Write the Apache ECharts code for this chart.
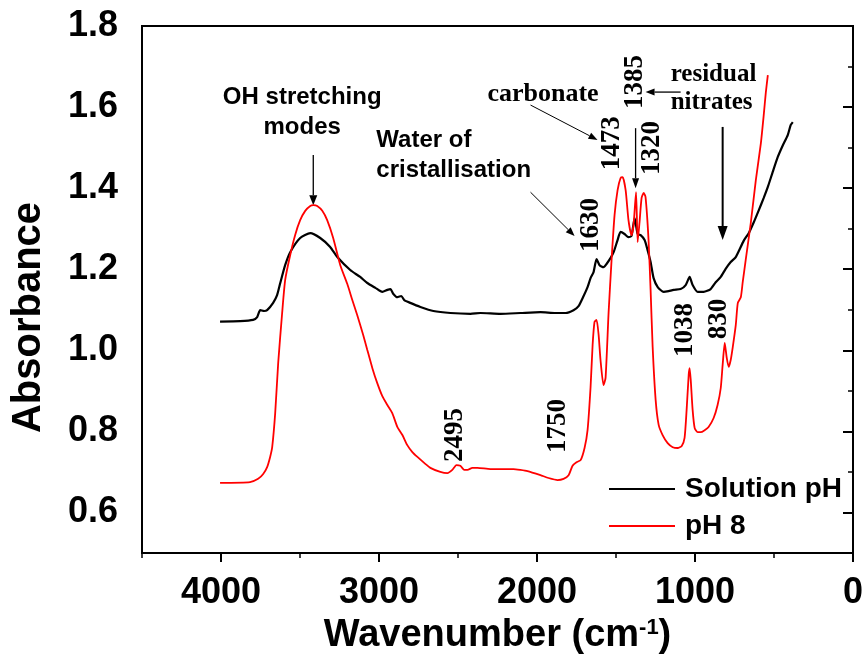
<!DOCTYPE html>
<html>
<head>
<meta charset="utf-8">
<title>FTIR absorbance spectra</title>
<script src="https://cdn.jsdelivr.net/npm/echarts@6/dist/echarts.min.js"></script>
<style>
  html, body { margin: 0; padding: 0; background: #fff; }
  #chart { width: 868px; height: 659px; }
</style>
</head>
<body>
<div id="chart"></div>
<script>
// Tick labels
const xTickValues = [4000, 3000, 2000, 1000, 0];
const xMinorValues = [4500, 3500, 2500, 1500, 500];
const yTickValues = [0.6, 0.8, 1.0, 1.2, 1.4, 1.6, 1.8];
const yMinorValues = [0.7, 0.9, 1.1, 1.3, 1.5, 1.7];

// Series names
const seriesNames = ['Solution pH', 'pH 8'];

// Spectrum recorded at solution pH: wavenumber (cm-1) and absorbance
const solutionWn = [
  4006, 3879, 3797, 3771, 3752, 3727, 3708, 3670, 3645, 3625, 3594, 3562, 3499, 3435, 3372, 3309,
  3264, 3182, 3119, 3074, 3023, 2979, 2947, 2928, 2909, 2884, 2859, 2840, 2802, 2738, 2656, 2548,
  2421, 2358, 2231, 2105, 1978, 1883, 1819, 1769, 1737, 1705, 1680, 1661, 1642, 1623, 1604, 1579,
  1560, 1534, 1515, 1490, 1471, 1446, 1421, 1402, 1382, 1363, 1344, 1319, 1300, 1281, 1262, 1236,
  1198, 1167, 1135, 1091, 1059, 1034, 1015, 983, 945, 901, 869, 837, 806, 774, 742, 692,
  660, 628, 596, 565, 539, 508, 476, 444, 413, 394, 381
];
const solutionAbs = [
  1.071, 1.072, 1.075, 1.082, 1.099, 1.097, 1.099, 1.117, 1.136, 1.166, 1.210, 1.242, 1.277, 1.289, 1.277, 1.255,
  1.230, 1.198, 1.181, 1.166, 1.154, 1.144, 1.149, 1.151, 1.139, 1.131, 1.134, 1.124, 1.117, 1.107, 1.097, 1.092,
  1.090, 1.092, 1.090, 1.092, 1.094, 1.092, 1.092, 1.099, 1.109, 1.134, 1.156, 1.178, 1.193, 1.225, 1.210, 1.205,
  1.213, 1.228, 1.242, 1.272, 1.292, 1.287, 1.279, 1.282, 1.326, 1.287, 1.284, 1.272, 1.247, 1.218, 1.178, 1.156,
  1.144, 1.146, 1.149, 1.151, 1.161, 1.181, 1.161, 1.144, 1.144, 1.151, 1.168, 1.181, 1.201, 1.218, 1.230, 1.270,
  1.289, 1.316, 1.346, 1.376, 1.403, 1.440, 1.477, 1.506, 1.531, 1.556, 1.563
];

// Spectrum recorded at pH 8: wavenumber (cm-1) and absorbance
const ph8Wn = [
  4006, 3816, 3765, 3733, 3708, 3689, 3676, 3657, 3638, 3613, 3594, 3562, 3531, 3499, 3467, 3435,
  3416, 3391, 3359, 3328, 3290, 3245, 3201, 3169, 3138, 3100, 3074, 3042, 3011, 2979, 2947, 2916,
  2884, 2852, 2821, 2789, 2757, 2707, 2675, 2612, 2567, 2536, 2510, 2485, 2460, 2440, 2409, 2377,
  2295, 2231, 2149, 2105, 2060, 1978, 1927, 1870, 1832, 1800, 1775, 1750, 1724, 1699, 1680, 1661,
  1648, 1636, 1623, 1610, 1598, 1579, 1566, 1547, 1528, 1509, 1490, 1471, 1458, 1439, 1421, 1402,
  1389, 1373, 1363, 1351, 1338, 1325, 1313, 1294, 1281, 1268, 1249, 1230, 1205, 1173, 1141, 1110,
  1084, 1066, 1053, 1040, 1034, 1027, 1015, 1002, 983, 964, 939, 914, 882, 857, 837, 825,
  812, 799, 787, 774, 761, 742, 729, 710, 698, 679, 647, 615, 583, 565, 552, 539
];
const ph8Abs = [
  0.673, 0.675, 0.683, 0.695, 0.712, 0.737, 0.761, 0.845, 0.969, 1.092, 1.173, 1.235, 1.284, 1.321, 1.344, 1.356,
  1.358, 1.356, 1.344, 1.321, 1.277, 1.210, 1.164, 1.124, 1.087, 1.038, 1.001, 0.956, 0.919, 0.887, 0.865, 0.845,
  0.811, 0.791, 0.766, 0.749, 0.737, 0.720, 0.710, 0.700, 0.697, 0.705, 0.717, 0.715, 0.705, 0.705, 0.710, 0.710,
  0.707, 0.707, 0.707, 0.705, 0.702, 0.692, 0.685, 0.680, 0.683, 0.692, 0.715, 0.724, 0.729, 0.759, 0.803, 0.909,
  1.013, 1.070, 1.075, 1.038, 0.976, 0.914, 0.932, 1.092, 1.223, 1.334, 1.395, 1.425, 1.427, 1.395, 1.321, 1.284,
  1.309, 1.390, 1.267, 1.316, 1.376, 1.388, 1.378, 1.272, 1.149, 1.008, 0.877, 0.816, 0.791, 0.771, 0.761, 0.759,
  0.764, 0.784, 0.853, 0.939, 0.956, 0.927, 0.853, 0.808, 0.798, 0.798, 0.803, 0.811, 0.833, 0.865, 0.907, 0.964,
  1.018, 0.981, 0.959, 0.976, 1.008, 1.062, 1.117, 1.131, 1.168, 1.223, 1.314, 1.420, 1.511, 1.580, 1.635, 1.679
];

// Band assignments written on the plot, anchored in data coordinates
const bandLabels = [
  { text: '1473', wn: 1522, abs: 1.511 },
  { text: '1385', wn: 1382, abs: 1.662 },
  { text: '1320', wn: 1274, abs: 1.499 },
  { text: '1630', wn: 1661, abs: 1.309 },
  { text: '2495', wn: 2517, abs: 0.791 },
  { text: '1750', wn: 1864, abs: 0.813 },
  { text: '1038', wn: 1065, abs: 1.050 },
  { text: '830',  wn: 850,  abs: 1.077 }
];

const sansFont = '"Liberation Sans", Arial, sans-serif';
const serifFont = '"Liberation Serif", "Times New Roman", serif';

const chart = echarts.init(document.getElementById('chart'), null, { renderer: 'canvas' });

function pairs(xs, ys) {
  return xs.map((x, i) => [x, ys[i]]);
}

const option = {
  animation: false,
  backgroundColor: '#ffffff',
  grid: {
    left: 142, right: 15, top: 26, bottom: 106,
    outerBoundsMode: 'none', containLabel: false,
    show: true, borderColor: '#000', borderWidth: 2, backgroundColor: 'transparent'
  },
  legend: {
    left: 604, top: 470, orient: 'vertical',
    itemWidth: 66, itemHeight: 2, itemGap: 9,
    icon: 'rect',
    textStyle: { fontFamily: sansFont, fontWeight: 'bold', fontSize: 28, color: '#000', padding: [0, 0, 0, 5] },
    data: seriesNames
  },
  xAxis: [
    {
      type: 'value', min: 0, max: 4500, inverse: true,
      name: '{t|Wavenumber (cm}{s|-1}{t|)}',
      nameLocation: 'middle', nameGap: 64,
      nameTextStyle: {
        rich: {
          t: { fontFamily: sansFont, fontWeight: 'bold', fontSize: 38, color: '#000' },
          s: { fontFamily: sansFont, fontWeight: 'bold', fontSize: 22, color: '#000', verticalAlign: 'top', padding: [0, 0, 14, 0] }
        }
      },
      axisLine: { show: true, lineStyle: { color: '#000', width: 2 } },
      axisTick: { show: true, inside: false, length: 9, lineStyle: { color: '#000', width: 2 }, customValues: xTickValues },
      axisLabel: {
        customValues: xTickValues, margin: 22,
        formatter: v => String(v),
        fontFamily: sansFont, fontWeight: 'bold', fontSize: 36, color: '#000'
      },
      splitLine: { show: false }
    },
    {
      type: 'value', min: 0, max: 4500, inverse: true, position: 'bottom',
      axisLine: { show: false },
      axisTick: { show: true, inside: false, length: 5, lineStyle: { color: '#000', width: 1.5 }, customValues: xMinorValues },
      axisLabel: { show: false },
      splitLine: { show: false }
    }
  ],
  yAxis: [
    {
      type: 'value', min: 0.5, max: 1.8,
      name: 'Absorbance',
      nameLocation: 'middle', nameGap: 93, nameRotate: 90,
      nameTextStyle: { fontFamily: sansFont, fontWeight: 'bold', fontSize: 40, color: '#000', padding: [0, 56, 0, 0] },
      axisLine: { show: true, lineStyle: { color: '#000', width: 2 } },
      axisTick: { show: true, inside: false, length: 10, lineStyle: { color: '#000', width: 2 }, customValues: yTickValues },
      axisLabel: {
        customValues: yTickValues, margin: 24,
        formatter: v => v.toFixed(1),
        fontFamily: sansFont, fontWeight: 'bold', fontSize: 36, color: '#000'
      },
      splitLine: { show: false }
    },
    {
      type: 'value', min: 0.5, max: 1.8, position: 'left',
      axisLine: { show: false },
      axisTick: { show: true, inside: false, length: 5, lineStyle: { color: '#000', width: 1.5 }, customValues: yMinorValues },
      axisLabel: { show: false },
      splitLine: { show: false }
    }
  ],
  series: [
    {
      name: seriesNames[0], type: 'line', xAxisIndex: 0, yAxisIndex: 0,
      data: pairs(solutionWn, solutionAbs),
      showSymbol: false, smooth: 0.2,
      lineStyle: { color: '#000', width: 2.2 }, itemStyle: { color: '#000' }
    },
    {
      name: seriesNames[1], type: 'line', xAxisIndex: 0, yAxisIndex: 0,
      data: pairs(ph8Wn, ph8Abs),
      showSymbol: false, smooth: 0.2,
      lineStyle: { color: '#ff0000', width: 1.8 }, itemStyle: { color: '#ff0000' }
    }
  ]
};

chart.setOption(option);

// ---- annotations: text and arrows placed from data coordinates ----
function px(wn, abs) {
  return chart.convertToPixel({ gridIndex: 0 }, [wn, abs]);
}

function arrow(from, to, width, headLen, headHalf) {
  const a = px(from[0], from[1]);
  const b = px(to[0], to[1]);
  const dx = b[0] - a[0], dy = b[1] - a[1];
  const len = Math.sqrt(dx * dx + dy * dy);
  const ux = dx / len, uy = dy / len;
  const bx = b[0] - ux * headLen, by = b[1] - uy * headLen;
  return [
    { type: 'line', silent: true, shape: { x1: a[0], y1: a[1], x2: bx, y2: by },
      style: { stroke: '#000', lineWidth: width } },
    { type: 'polygon', silent: true,
      shape: { points: [[b[0], b[1]], [bx - uy * headHalf, by + ux * headHalf], [bx + uy * headHalf, by - ux * headHalf]] },
      style: { fill: '#000' } }
  ];
}

function label(text, wn, abs, opts) {
  const p = px(wn, abs);
  return {
    type: 'text', silent: true, x: p[0], y: p[1], rotation: opts.rotation || 0,
    style: {
      text: text, fill: '#000',
      fontFamily: opts.font, fontWeight: 'bold', fontSize: opts.size,
      lineHeight: opts.lineHeight || opts.size,
      align: opts.align || 'center', verticalAlign: 'middle'
    }
  };
}

const graphics = [];

graphics.push(label('OH stretching\nmodes', 3486, 1.588, { font: sansFont, size: 24, lineHeight: 30 }));
graphics.push(label('Water of\ncristallisation', 3017, 1.482, { font: sansFont, size: 24, lineHeight: 30, align: 'left' }));
graphics.push(label('carbonate', 2314, 1.632, { font: serifFont, size: 26, align: 'left' }));
graphics.push(label('residual\nnitrates', 1154, 1.645, { font: serifFont, size: 25, lineHeight: 28, align: 'left' }));

bandLabels.forEach(b => {
  graphics.push(label(b.text, b.wn, b.abs, { font: serifFont, size: 27, rotation: Math.PI / 2 }));
});

graphics.push(...arrow([3416, 1.482], [3416, 1.358], 1.3, 10, 4));
graphics.push(...arrow([2041, 1.390], [1762, 1.282], 1, 9, 3.5));
graphics.push(...arrow([2041, 1.605], [1617, 1.519], 1, 9, 3.5));
graphics.push(...arrow([1376, 1.548], [1376, 1.400], 1.3, 10, 3.5));
graphics.push(...arrow([1091, 1.637], [1313, 1.637], 1.3, 9, 3.5));
graphics.push(...arrow([825, 1.551], [825, 1.272], 2, 14, 5));

chart.setOption({ graphic: graphics });
</script>
</body>
</html>
